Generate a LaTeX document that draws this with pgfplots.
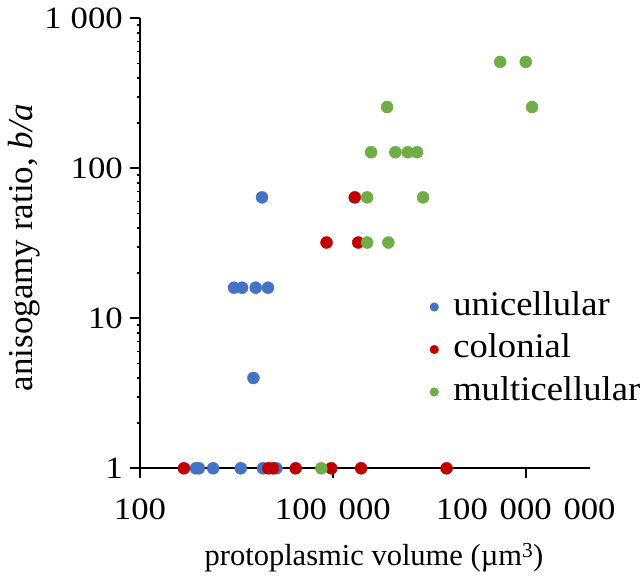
\documentclass[border=0pt]{standalone}
\usepackage{pgfplots}
\pgfplotsset{compat=1.18}
\usepackage{graphicx}
\usepackage{fontspec}
\setmainfont{Liberation Serif}
\newfontfamily\legfont[FakeStretch=1.06]{Liberation Serif}
\newcommand\sx[1]{\scalebox{1.12}[1]{#1}}
\definecolor{cblue}{HTML}{4472C4}
\definecolor{cred}{HTML}{C00000}
\definecolor{cgreen}{HTML}{70AD47}
\begin{document}
\begin{tikzpicture}
\begin{axis}[
  set layers,
  at={(0,0)}, anchor=south west,
  scale only axis, width=450bp, height=450bp,
  xmode=log, ymode=log,
  xmin=100, xmax=1e9, ymin=1, ymax=1000,
  clip=false,
  axis x line*=bottom, axis y line*=left,
  axis line style={line width=1.6bp, -},
  every tick/.style={line width=1.6bp, black},
  tick align=outside, major tick length=10bp,
  minor tick num=0,
  xtick={100,100000,100000000},
  xticklabels={\sx{100},\sx{100\hspace{10.5bp}000},\sx{100\hspace{10.5bp}000\hspace{10.5bp}000}},
  ytick={1,10,100,1000},
  yticklabels={\sx{1},\sx{10},\sx{100},\sx{1\hspace{8bp}000}},
  xticklabel style={font=\fontsize{31bp}{31bp}\selectfont, inner sep=0pt, anchor=north, yshift=-20bp},
  yticklabel style={font=\fontsize{31bp}{31bp}\selectfont, inner sep=0pt, anchor=east, xshift=-7bp},
  xlabel={protoplasmic volume (µm\textsuperscript{3})},
  ylabel={anisogamy ratio, \textit{b/a}},
  xlabel style={font=\fontsize{30.5bp}{30.5bp}\selectfont, at={(axis description cs:0.52,-0.2171)}, anchor=base, inner sep=0pt},
  ylabel style={font=\fontsize{35bp}{35bp}\selectfont, at={(axis description cs:-0.2578,0.49)}, anchor=center, rotate=0, inner sep=0pt},
  legend style={draw=none, fill=none, inner sep=0pt, outer sep=0pt,
    at={(axis description cs:0.6444,0.3962)}, anchor=north west,
    row sep=8.5bp,
    nodes={inner sep=0pt, text height=25bp, text depth=9bp, anchor=west},
    font=\legfont\fontsize{34.5bp}{34.5bp}\selectfont},
  legend cell align=left,
  legend image code/.code={\path[draw=none] (-4bp,0bp) -- (19bp,0bp); \path[#1,draw=none,mark size=4.3bp] plot coordinates {(0bp,0bp)};},
  every axis plot/.append style={on layer=axis foreground},
]
\addplot[only marks, mark=*, mark size=6bp, color=cblue, mark options={draw=none, fill=cblue}] coordinates {
(740,1) (824,1) (1371,1) (3690,1) (8190,1) (13220,1)
(2904,16) (3871,16) (6310,16) (9790,16)
(7910,64) (5810,4)
};
\addlegendentry{unicellular}
\addplot[only marks, mark=*, mark size=6bp, color=cred, mark options={draw=none, fill=cred}] coordinates {
(482,1) (9930,1) (11720,1) (26370,1) (94400,1) (275000,1) (5870000,1)
(79800,32) (248000,32) (219000,64)
};
\addlegendentry{colonial}
\addplot[only marks, mark=*, mark size=6bp, color=cgreen, mark options={draw=none, fill=cgreen}] coordinates {
(66100,1) (341000,32) (731000,32) (341000,64) (2530000,64)
(394000,128) (940000,128) (1460000,128) (2040000,128)
(698000,256) (125600000,256) (40000000,512) (100000000,512)
};
\addlegendentry{multicellular}
\end{axis}
\pgfresetboundingbox
\path (-140bp,-107.7bp) rectangle (504bp,468.3bp);
\end{tikzpicture}
\end{document}
